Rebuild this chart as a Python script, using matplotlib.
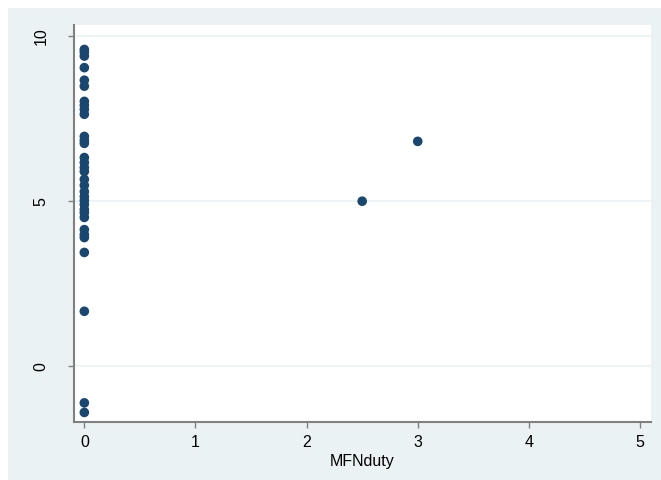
import matplotlib
matplotlib.use("Agg")
import matplotlib.pyplot as plt
from matplotlib.patches import Rectangle

plt.rcParams['font.family'] = ['Liberation Sans', 'DejaVu Sans']

# MFN duty (x) and the outcome (y)
mfn_zero = [9.59, 9.51, 9.39, 9.04, 8.66, 8.48, 8.02, 7.90, 7.78, 7.63,
            6.96, 6.84, 6.75, 6.32, 6.17, 6.02, 5.90, 5.66, 5.48, 5.29,
            5.14, 5.02, 4.90, 4.75, 4.65, 4.51, 4.14, 3.99, 3.90, 3.45,
            1.67, -1.10, -1.39]
x_other = [2.5, 3.0]
y_other = [5.0, 6.81]

xs = [0.0] * len(mfn_zero) + x_other
ys = mfn_zero + y_other

bg = '#EAF2F3'
navy = '#1A476F'
axis_gray = '#808080'

fig = plt.figure(figsize=(6.61, 4.80), dpi=100)
fig.patch.set_facecolor(bg)
# white strips where the image was cropped (top and left)
fig.patches.append(Rectangle((0, 1 - 8 / 480), 1, 8 / 480, transform=fig.transFigure,
                             facecolor='white', edgecolor='none'))
fig.patches.append(Rectangle((0, 0), 8 / 661, 1, transform=fig.transFigure,
                             facecolor='white', edgecolor='none'))

ax = fig.add_axes([74 / 661, 1 - 421.7 / 480, (650.7 - 74) / 661, (421.7 - 25) / 480])
ax.set_zorder(2)
ax.set_facecolor('white')

ax.scatter(xs, ys, s=48, color=navy, edgecolors='none', zorder=3)

ax.set_xlim(-0.093, 5.096)
ax.set_ylim(-1.67, 10.33)
ax.set_xticks([0, 1, 2, 3, 4, 5])
ax.set_yticks([0, 5, 10])
ax.grid(axis='y', color=bg, linewidth=1.2, zorder=1)
ax.grid(axis='x', visible=False)

for side in ['top', 'right']:
    ax.spines[side].set_visible(False)
for side in ['left', 'bottom']:
    ax.spines[side].set_color(axis_gray)
    ax.spines[side].set_linewidth(1.5)

ax.tick_params(axis='both', direction='out', length=4.5, width=1, color=axis_gray,
               labelsize=11.5, labelcolor='black')
ax.tick_params(axis='x', pad=5)
ax.tick_params(axis='y', pad=14)
for lab in ax.get_yticklabels():
    lab.set_rotation(90)
    lab.set_va('center')

ax.set_xlabel('MFNduty', fontsize=11.5, labelpad=3)

fig.savefig('out.png', dpi=100, facecolor=fig.get_facecolor())
